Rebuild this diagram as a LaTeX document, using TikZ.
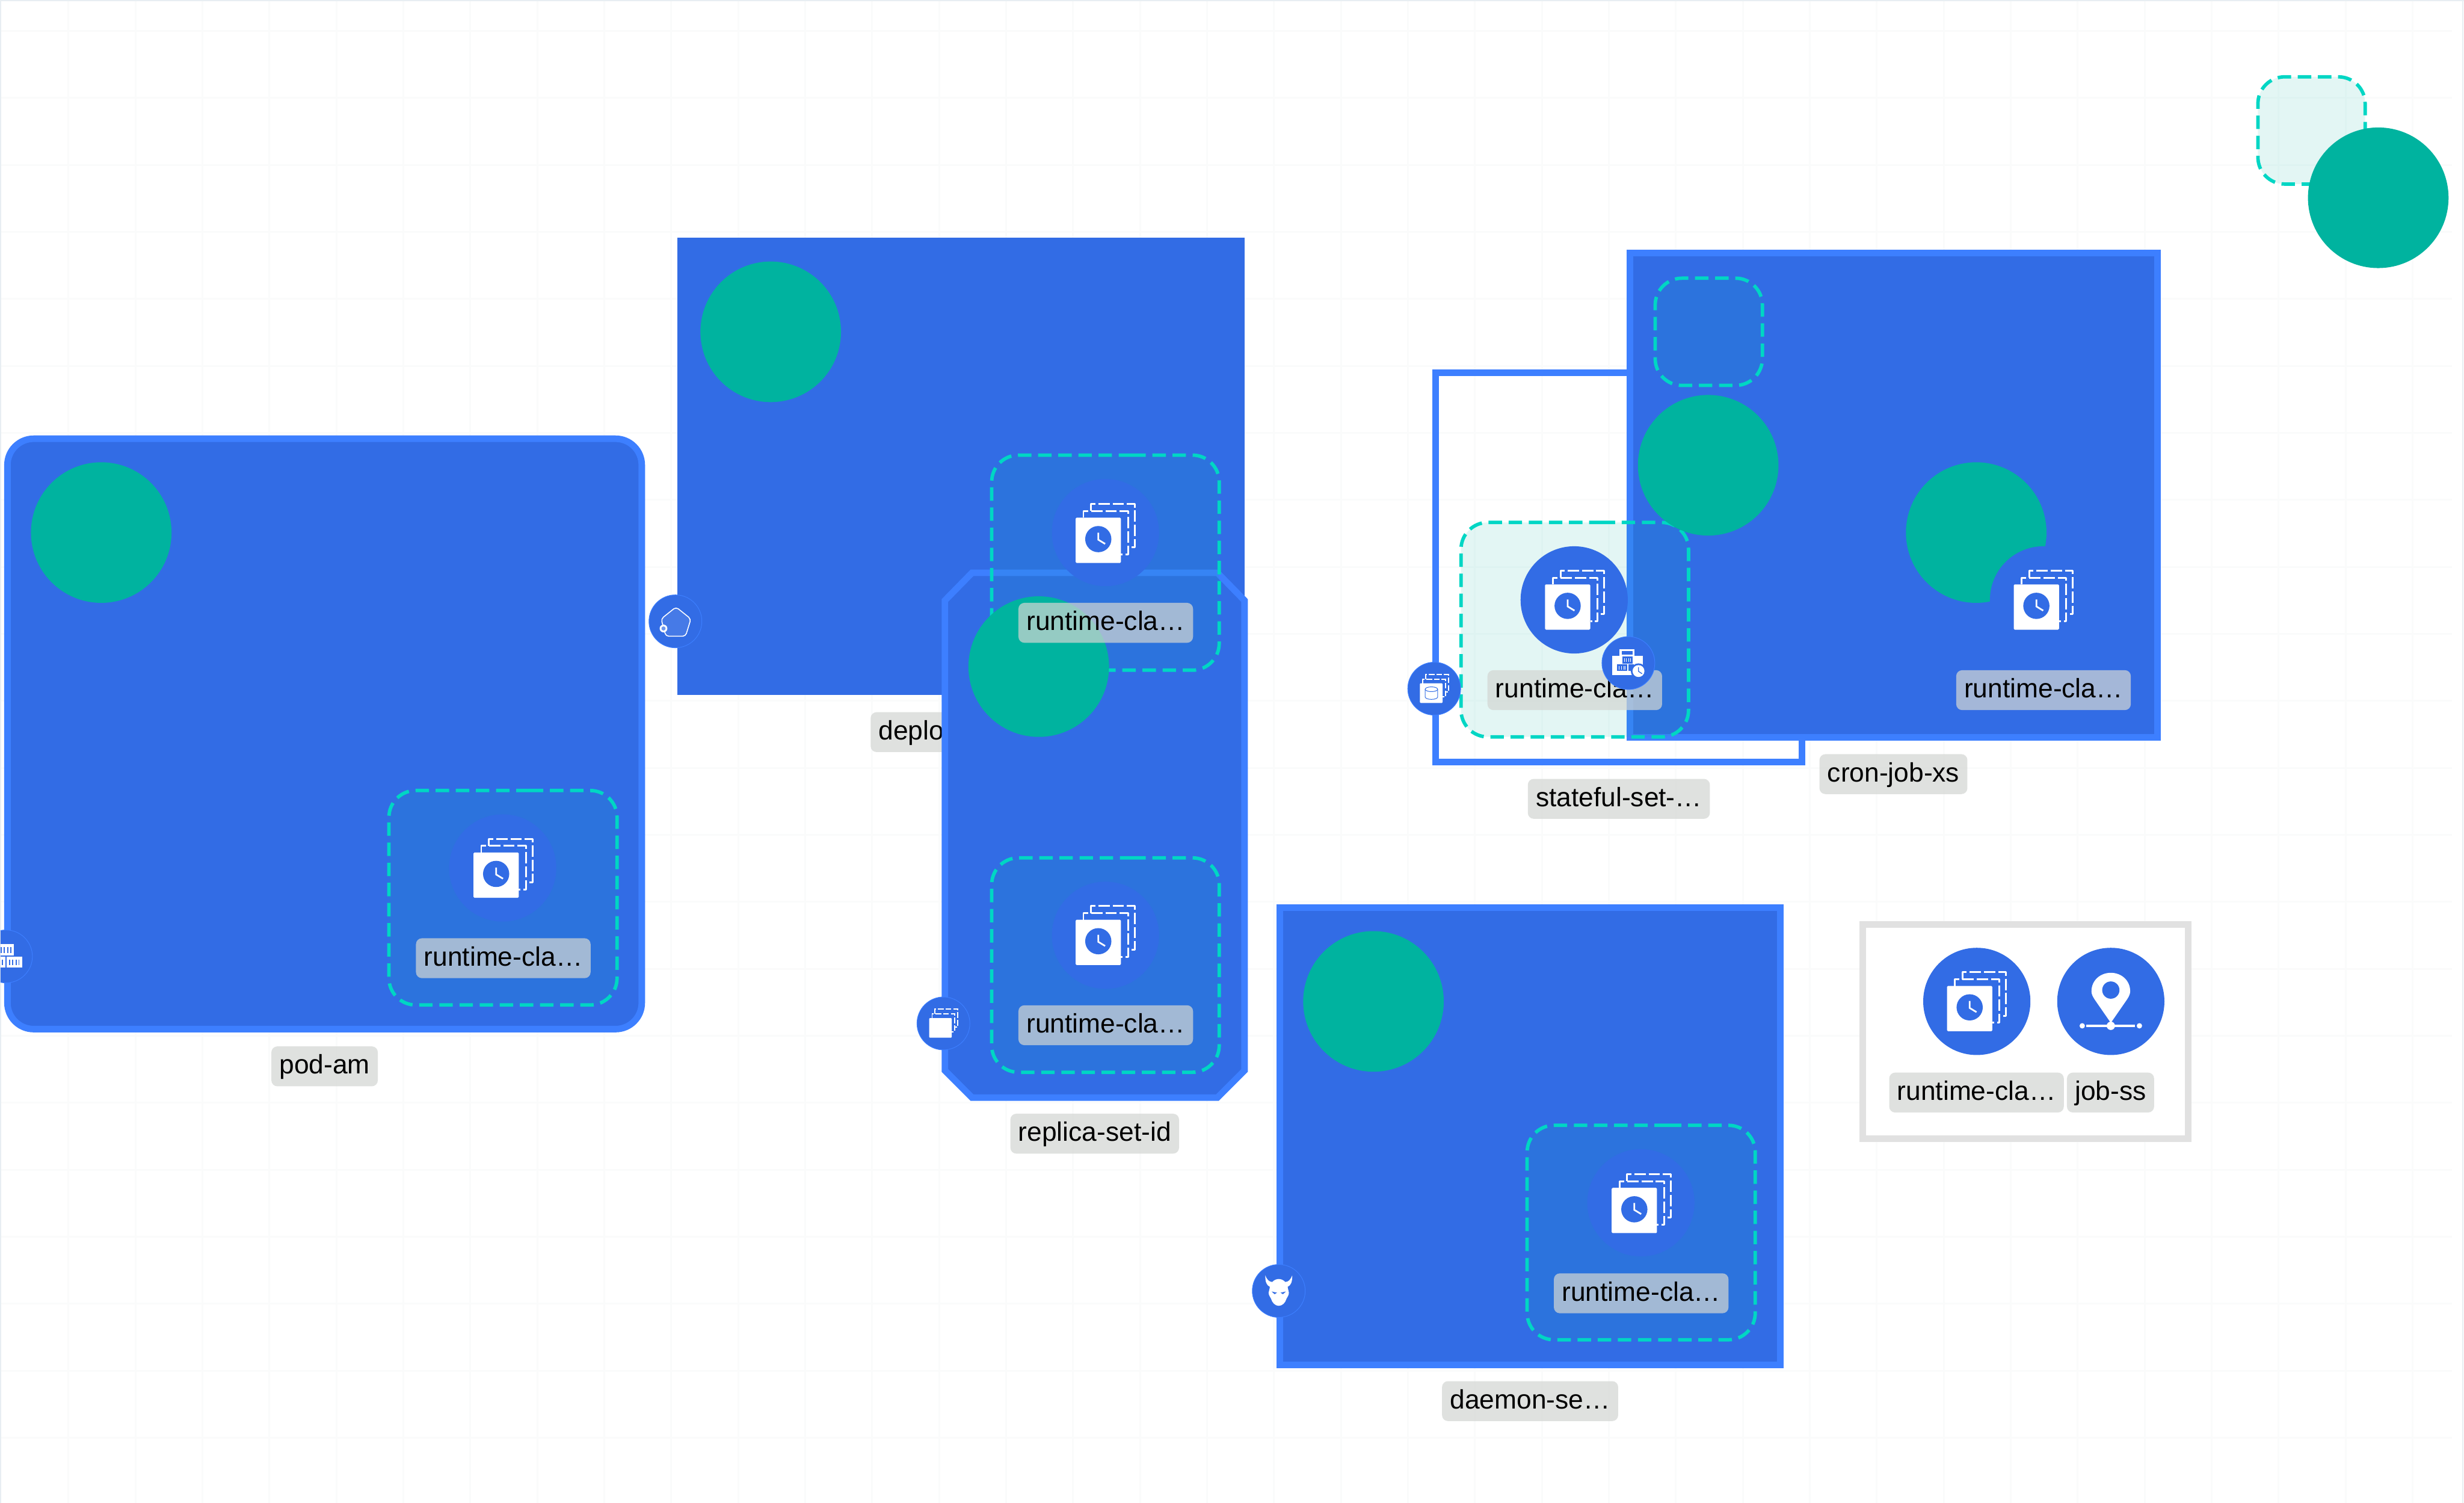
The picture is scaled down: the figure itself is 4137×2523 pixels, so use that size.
\documentclass[tikz,border=0pt]{standalone}
\usepackage{fontspec}
\setmainfont{Liberation Sans}
\definecolor{k8s}{HTML}{326CE5}
\definecolor{rim}{HTML}{3D7FFF}
\definecolor{teal}{HTML}{00B39F}
\definecolor{tealline}{HTML}{00D6C4}
\definecolor{tealfill}{HTML}{00B4A0}
\definecolor{labc}{HTML}{D3D6D3}
\definecolor{legrim}{HTML}{E1E1E1}
\definecolor{gridc}{HTML}{FAFBFB}
\definecolor{framec}{HTML}{E8EEF2}
\tikzset{
  x=.25pt,y=-.25pt,
  gridl/.style={draw=gridc,line width=.75pt},
  framel/.style={draw=framec,line width=.5pt},
  solidbox/.style={shape=rectangle,draw=rim,fill=k8s,line width=2.75pt,inner sep=0pt,outer sep=0pt},
  plainbox/.style={shape=rectangle,fill=k8s,inner sep=0pt,outer sep=0pt},
  roundbox/.style={solidbox,rounded corners=11pt},
  openbox/.style={shape=rectangle,draw=rim,line width=2.75pt,inner sep=0pt,outer sep=0pt},
  legbox/.style={shape=rectangle,draw=legrim,fill=white,line width=2.75pt,inner sep=0pt,outer sep=0pt},
  greendisc/.style={shape=circle,fill=teal,minimum size=59pt,inner sep=0pt,outer sep=0pt},
  icondisc/.style={shape=circle,fill=k8s,minimum size=45pt,inner sep=0pt,outer sep=0pt},
  badge/.style={shape=circle,fill=k8s,draw=rim,line width=.25pt,minimum size=22.2pt,inner sep=0pt,outer sep=0pt},
  lab/.style={shape=rectangle,fill=labc,fill opacity=.71,text opacity=1,text=black,rounded corners=2.5pt,
    inner xsep=3.35pt,inner ysep=0pt,outer sep=0pt,minimum height=16.75pt,
    text height=8.6pt,text depth=2.2pt,font=\fontsize{11.2}{13}\selectfont},
  dashbox/.style={draw=tealline,line width=1.45pt,dash pattern=on 5.65pt off 2.8pt,fill=tealfill,fill opacity=.11,draw opacity=1,rounded corners=11.25pt},
  lay/.style={draw=white,line width=.75pt,dash pattern=on 4.75pt off 1.25pt,line join=round},
  smalllay/.style={draw=white,line width=.5pt,dash pattern=on 2.4pt off .8pt},
  hand/.style={draw=white,line width=.7pt},
}
\newcommand\boxat[6]{\node[#2,minimum width={(#5-#3-11)*.25pt},minimum height={(#6-#4-11)*.25pt}] (#1) at ({(#3+#5)/2},{(#4+#6)/2}) {};}
\newcommand\dashedpod[4]{\draw[dashbox] ({(#1+#3)/2},#2) -- (#3,#2) -- (#3,#4) -- (#1,#4) -- (#1,#2) -- cycle;}
\newcommand\clockstack[2]{\begin{scope}[shift={(#1,#2)}]
  \draw[lay] (-24,-37) -- (-24,-49) -- (49,-49) -- (49,24) -- (38,24);
  \draw[lay] (-37,-26) -- (-37,-37) -- (38,-37) -- (38,36) -- (26,36);
  \fill[white,rounded corners=.4pt] (-50,-26) rectangle (26,50);
  \fill[k8s] (-12,10) circle (22);
  \draw[hand] (-12,-.7) -- (-12,11) -- (-.5,18);
\end{scope}}
\newcommand\minilayers{%
  \draw[smalllay] (-14,-16) -- (-14,-24) -- (24,-24) -- (24,6) -- (19,6);
  \draw[smalllay] (-19,-9) -- (-19,-16) -- (19,-16) -- (19,14) -- (14,14);
  \fill[white,rounded corners=.3pt] (-24,-9) rectangle (14,24);}
\begin{document}
\begin{tikzpicture}
\useasboundingbox (0,0) rectangle (4137,2523);
\fill[white] (0,0) rectangle (4137,2523);
% canvas grid
\foreach \k in {0,...,35} \draw[gridl] ({115+112.45*\k},0) -- ({115+112.45*\k},2523);
\foreach \k in {0,...,21} \draw[gridl] (0,{52+112.45*\k}) -- (4117,{52+112.45*\k});
\draw[framel] (1,2523) -- (1,1) -- (4137,1);
\draw[framel] (4135,0) -- (4135,2523);

% top right free pod
\dashedpod{3791}{129}{3971}{309}
\node[greendisc] (gtop) at (3993,332) {};

% pod-am
\boxat{pod}{roundbox}{7}{731}{1083}{1733}
\node[greendisc] (gpod) at (170,894) {};
\dashedpod{653}{1327}{1036}{1687}
\node[icondisc] (ipod) at (844,1457) {};
\clockstack{845}{1457}
\node[lab] (lpod) at (845,1608.5) {runtime-cla…};
\node[lab] (npod) at (545,1790) {pod-am};
\begin{scope}
  \clip (1,1500) rectangle (100,1700);
  \node[badge] (bpod) at (10,1605.5) {};
  \fill[white] (-10,1585) rectangle (23,1604);
  \fill[white] (-10,1606) rectangle (9,1624);
  \fill[white] (11,1606) rectangle (37,1624);
  \foreach \b in {2,7,13,18} \fill[k8s] (\b-.8,1590) rectangle (\b+.8,1600);
  \foreach \b in {4,16,21,27,32} \fill[k8s] (\b-.8,1611) rectangle (\b+.8,1620);
\end{scope}

% deployment
\node[plainbox,minimum width={953*.25pt},minimum height={768*.25pt}] (dep) at (1613.5,783) {};
\node[greendisc] (gdep) at (1294,557) {};
\node[lab,text width=68.9pt,align=left] (ndep) at (1613,1229) {deplo};

% replica set body
\draw[draw=rim,fill=k8s,line width=2.75pt,miter limit=4]
  (1632,961.5) -- (2044,961.5) -- (2089.5,1008) -- (2089.5,1797) -- (2044,1842.5) -- (1632,1842.5) -- (1586.5,1797) -- (1586.5,1008) -- cycle;

% deployment child over the replica set
\dashedpod{1665}{764}{2047}{1125}
\node[greendisc] (grep) at (1744,1119) {};
\node[icondisc] (idep) at (1856,894) {};
\clockstack{1856}{895}
\node[lab] (ldep) at (1856.5,1045.5) {runtime-cla…};

% deployment badge
\node[badge] (bdep) at (1134,1043) {};
\begin{scope}[shift={(1134,1043)}]
  \draw[draw=white,line width=.4pt,fill=white,fill opacity=.1,draw opacity=1,rounded corners=1.2pt]
    (1,-24) -- (26,-4) -- (17,25) -- (-16,25) -- (-24,-4) -- cycle;
  \fill[white] (-20,12) circle (6.5);
  \fill[k8s!70!white] (-20,12) circle (3.5);
\end{scope}

% replica set child
\dashedpod{1665}{1440}{2047}{1800}
\node[icondisc] (irep) at (1856,1570) {};
\clockstack{1856}{1570}
\node[lab] (lrep) at (1856.5,1721) {runtime-cla…};
\node[lab] (nrep) at (1838,1903) {replica-set-id};
\node[badge] (brep) at (1584,1718) {};
\begin{scope}[shift={(1584,1718)}]
  \minilayers
\end{scope}

% daemon set
\boxat{dae}{solidbox}{2143}{1518}{2995}{2297}
\node[greendisc] (gdae) at (2306,1681) {};
\dashedpod{2564}{1889}{2947}{2249}
\node[icondisc] (idae) at (2755,2019) {};
\clockstack{2756}{2020}
\node[lab] (ldae) at (2755.5,2171) {runtime-cla…};
\node[lab] (ndae) at (2569,2352) {daemon-se…};
\node[badge] (bdae) at (2147,2167) {};
\begin{scope}[shift={(2147,2167)}]
  \fill[white]
    (-22.5,-26) .. controls (-23,-15) and (-20,-9) .. (-15,-7)
    .. controls (-15,-3) and (-17,0) .. (-17,3)
    .. controls (-17,8) and (-14,10) .. (-13,13)
    .. controls (-11,20) and (-6,25) .. (0,25)
    .. controls (6,25) and (11,20) .. (13,13)
    .. controls (14,10) and (17,8) .. (17,3)
    .. controls (17,0) and (15,-3) .. (15,-7)
    .. controls (20,-9) and (23,-15) .. (22.5,-26)
    .. controls (20,-19) and (16,-15) .. (11,-15)
    .. controls (7,-19) and (3,-20) .. (0,-20)
    .. controls (-3,-20) and (-7,-19) .. (-11,-15)
    .. controls (-16,-15) and (-20,-19) .. (-22.5,-26) -- cycle;
  \fill[k8s] (-12,1) -- (-3,3) -- (-7,5.5) -- cycle;
  \fill[k8s] (12,1) -- (3,3) -- (7,5.5) -- cycle;
\end{scope}

% stateful set frame under cron job
\boxat{sts}{openbox}{2405}{620}{3031}{1285}
\node[lab] (nsts) at (2718,1341) {stateful-set-…};

% cron job
\boxat{cron}{solidbox}{2731}{419}{3628}{1243}
\dashedpod{2779}{467}{2959}{647}
\node[greendisc] (gcron) at (3318,894) {};
\node[icondisc] (icron) at (3431,1007) {};
\clockstack{3431}{1007}
\node[lab] (lcron) at (3431,1158.5) {runtime-cla…};
\node[lab] (ncron) at (3179,1299.5) {cron-job-xs};

% stateful child
\dashedpod{2453}{877}{2835}{1237}
\node[greendisc] (gsts) at (2868,781) {};
\node[icondisc] (ists) at (2643,1007) {};
\clockstack{2644}{1007}
\node[lab] (lsts) at (2644,1158.5) {runtime-cla…};
\node[badge] (bsts) at (2408,1156) {};
\begin{scope}[shift={(2408,1156)}]
  \minilayers
  \draw[k8s,line width=.25pt] (-15.2,1) -- (-15.2,14) arc[start angle=180,end angle=0,x radius=10.5,y radius=4] -- (5.8,1);
  \draw[k8s,line width=.25pt] (-4.7,1) ellipse [x radius=10.5,y radius=4];
\end{scope}
\node[badge] (bcron) at (2734,1113) {};
\begin{scope}[shift={(2734,1113)}]
  \draw[white,line width=.8pt] (-13,-12) rectangle (9,-22);
  \fill[white] (-27,-12) rectangle (24,20);
  \fill[k8s] (-10,-11) rectangle (7,1);
  \fill[k8s] (-19,2) rectangle (-2,13);
  \fill[k8s] (0,2) rectangle (9,13);
  \foreach \b in {-7,-3,1,4} \fill[white] (\b-.5,-8) rectangle (\b+.5,-2);
  \foreach \b in {-16,-12,-8,-5} \fill[white] (\b-.5,5) rectangle (\b+.5,11);
  \fill[k8s] (17,13.5) circle (13);
  \fill[white] (17,13.5) circle (10);
  \draw[k8s,line width=.35pt] (17,7) -- (17,14) -- (23,18);
\end{scope}

% legend
\boxat{leg}{legbox}{3122}{1546}{3679}{1917}
\node[icondisc] (ileg) at (3319,1681) {};
\clockstack{3319}{1681}
\node[icondisc] (jleg) at (3544,1681) {};
\begin{scope}[shift={(3544,1681)}]
  \fill[white] (0,36) -- (-27,-3) .. controls (-31,-9) and (-32.5,-13) .. (-32.5,-17)
     .. controls (-32.5,-35) and (-18,-48) .. (0,-48)
     .. controls (18,-48) and (32.5,-35) .. (32.5,-17)
     .. controls (32.5,-13) and (31,-9) .. (27,-3) -- cycle;
  \fill[k8s] (0,-19) circle (14.5);
  \draw[white,line width=1pt] (-41,41) -- (40,41);
  \fill[white] (0,41) circle (7);
  \fill[white] (-48,41) circle (4.5);
  \fill[white] (48,41) circle (4.5);
\end{scope}
\node[lab] (l1leg) at (3318.5,1834) {runtime-cla…};
\node[lab] (l2leg) at (3543.5,1834) {job-ss};
\end{tikzpicture}
\end{document}
